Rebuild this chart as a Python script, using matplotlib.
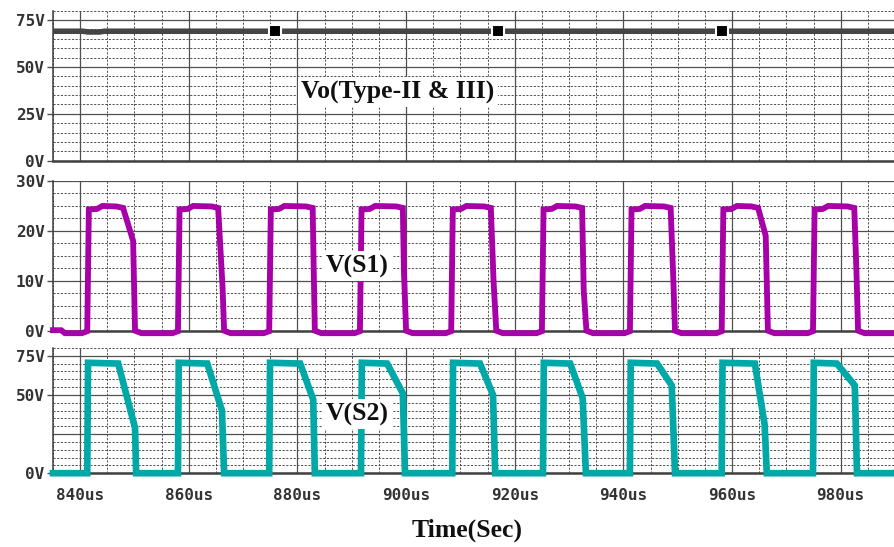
import numpy as np
import matplotlib
matplotlib.use("Agg")
import matplotlib.pyplot as plt

# ---- data (time in us, voltage in V) ----
vo_t = [835.0, 840.5, 841.5, 843.5, 844.5, 990.0]
vo_v = [69.0, 69.0, 68.6, 68.6, 69.0, 69.0]
vo_marker_t = [875.9, 916.9, 958.1]

s1_rise = [841.3, 858.0, 874.8, 891.5, 908.3, 925.0, 941.2, 958.1, 974.9]
s1_top_end = [847.9, 865.4, 882.8, 899.4, 915.6, 932.4, 948.7, 964.8, 982.5]
s1_knee_t = [849.75, 866.2, 883.0, 899.6, 916.1, 932.7, 949.2, 966.2, 982.9]
s1_knee_v = [18, 9, 12, 12, 10, 8, 10, 19, 12]
s1_fall = [850.1, 866.5, 883.2, 900.0, 916.6, 933.2, 949.5, 966.6, 983.2]

s2_rise = [841.3, 858.0, 874.8, 891.7, 908.5, 925.2, 941.2, 958.1, 974.9]
s2_top_end = [847.0, 863.4, 880.5, 896.5, 913.6, 930.2, 946.2, 964.2, 979.3]
s2_knee_t = [850.1, 866.1, 882.9, 899.4, 916.0, 932.5, 948.9, 966.0, 982.6]
s2_knee_v = [29, 40, 47, 51, 50, 48, 56, 31, 56]
s2_fall = [850.3, 866.5, 883.2, 899.8, 916.4, 933.1, 949.5, 966.4, 983.0]

x_ticks = [840, 860, 880, 900, 920, 940, 960, 980]
x_labels = ['840us', '860us', '880us', '900us', '920us', '940us', '960us', '980us']

# ---- build the traces from the edges ----
t1 = [835.0, 836.5, 837.2, 840.3]
v1 = [0.1, 0.1, -0.5, -0.5]
for i, r in enumerate(s1_rise):
    t1 += [r, r + 0.3, r + 1.8, r + 2.8, s1_top_end[i] - 1.2, s1_top_end[i],
           s1_knee_t[i], s1_fall[i], s1_fall[i] + 1.2]
    v1 += [-0.1, 24.3, 24.4, 25.0, 24.9, 24.6, s1_knee_v[i], 0.0, -0.5]
    nxt = s1_rise[i + 1] - 1.0 if i + 1 < len(s1_rise) else 990.0
    t1.append(nxt)
    v1.append(-0.5)

t2 = [835.0]
v2 = [0.0]
for i, r in enumerate(s2_rise):
    t2 += [r, r + 0.15, s2_top_end[i], s2_knee_t[i], s2_fall[i]]
    v2 += [0.0, 70.5, 70.0, s2_knee_v[i], 0.0]
t2.append(990.0)
v2.append(0.0)

# ---- figure ----
W, H = 894, 547
fig = plt.figure(figsize=(W / 100, H / 100), dpi=100)
fig.patch.set_facecolor('white')

GRID = '#505050'
TXT = '#333333'
mono = dict(family='DejaVu Sans Mono', weight='bold', size=11.5, color=TXT)


def panel(top, bottom, ylim, major, minor, labels, extra_major=()):
    ax = fig.add_axes([53 / W, 1 - bottom / H, (895 - 53) / W, (bottom - top) / H])
    ax.set_xlim(835, 990)
    ax.set_ylim(*ylim)
    ax.set_xticks(x_ticks)
    ax.set_xticks(np.arange(835, 991, 5), minor=True)
    ax.set_yticks(major)
    ax.set_yticks(minor, minor=True)
    ax.set_yticklabels(labels, fontdict=mono)
    ax.grid(which='major', color=GRID, lw=0.9, ls='-')
    ax.grid(which='minor', color=GRID, lw=0.7, ls=(0, (2.2, 1.6)))
    for y in extra_major:
        ax.axhline(y, color=GRID, lw=0.9, zorder=1.5)
    ax.tick_params(axis='y', which='major', length=4.5, width=1.0, color=GRID, pad=1.5)
    ax.tick_params(axis='x', which='major', length=0, labelbottom=False)
    ax.tick_params(which='minor', length=0)
    ax.spines['right'].set_visible(False)
    ax.spines['top'].set_visible(False)
    ax.spines['left'].set_color('#404040')
    ax.spines['left'].set_linewidth(1.1)
    ax.spines['bottom'].set_color('#404040')
    ax.spines['bottom'].set_linewidth(1.8)
    return ax


ax1 = panel(10.6, 160.7, (0, 80), [0, 25, 50, 75], np.arange(0, 81, 5),
            ['0V', '25V', '50V', '75V'])
ax2 = panel(181, 330.7, (0, 30), [0, 10, 20, 30], np.arange(0, 30.1, 2.5),
            ['0V', '10V', '20V', '30V'])
ax3 = panel(347.9, 473.2, (0, 80), [0, 50, 75], np.arange(0, 81, 5),
            ['0V', '50V', '75V'], extra_major=[25])

ax1.plot(vo_t, vo_v, color='#454545', lw=4.0, solid_capstyle='butt', zorder=3)
ax1.plot(vo_marker_t, np.interp(vo_marker_t, vo_t, vo_v), 's', ms=8,
         mfc='black', mec='white', mew=1.5, zorder=4)

ax2.plot(t1, v1, color='#A800A8', lw=4.2, solid_joinstyle='miter', clip_on=False, zorder=3)
ax3.plot(t2, v2, color='#00A8A8', lw=4.8, solid_joinstyle='miter', clip_on=False, zorder=3)

ax3.tick_params(axis='x', labelbottom=True, pad=11)
ax3.set_xticklabels(x_labels, fontdict=mono)

serif = dict(family='Liberation Serif', weight='bold', fontsize=18.5, color='#101010',
             ha='center', va='center')
box = dict(facecolor='white', edgecolor='none', pad=2.5)
fig.text(398 / W, 1 - 92 / H, 'Vo(Type-II & III)', bbox=box, **serif)
fig.text(357 / W, 1 - 266 / H, 'V(S1)', bbox=box, **serif)
fig.text(357 / W, 1 - 414 / H, 'V(S2)', bbox=box, **serif)
fig.text(467 / W, 1 - 530 / H, 'Time(Sec)', **serif)

fig.savefig('out.png', dpi=100)
